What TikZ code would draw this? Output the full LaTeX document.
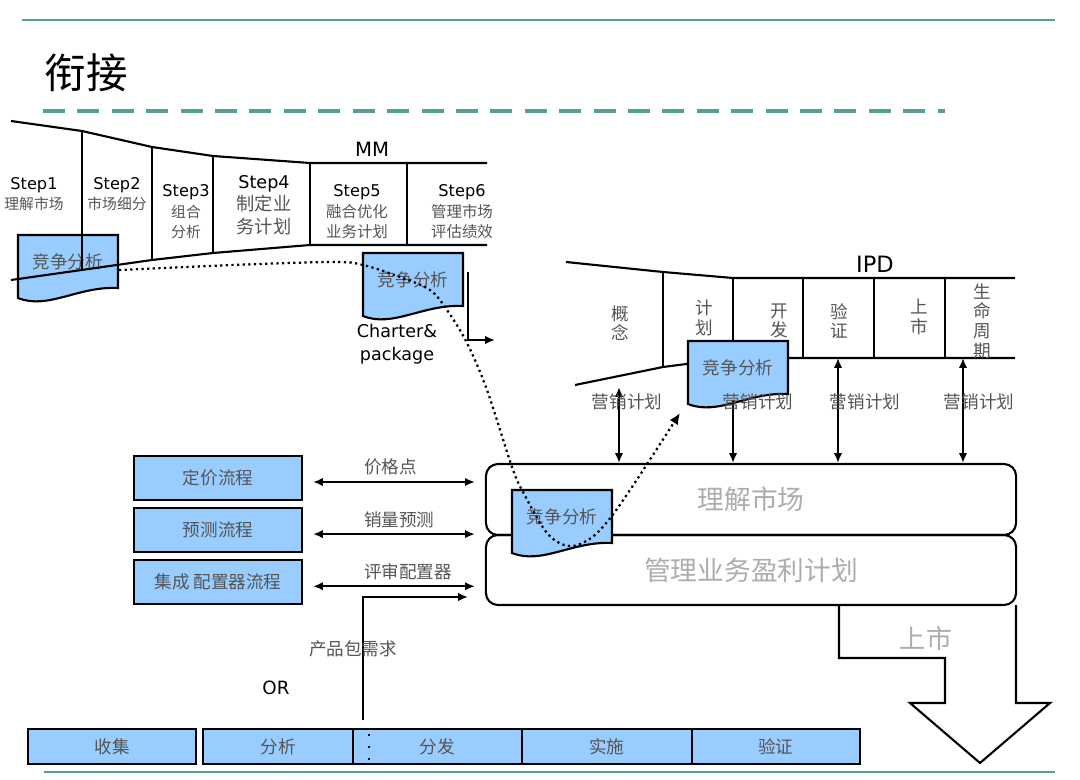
\documentclass[tikz,border=0pt]{standalone}
\usepackage{fontspec}
\setmainfont{DejaVu Sans}
\newfontfamily\cjk{Noto Sans CJK SC}
\usetikzlibrary{arrows.meta,calc,positioning}
\definecolor{RuleClr}{RGB}{84,160,150}
\definecolor{BoxClr}{RGB}{153,204,255}
\definecolor{LblClr}{RGB}{85,85,85}
\definecolor{PaleClr}{RGB}{172,172,172}

\newcommand{\zs}{\cjk\fontsize{10.5}{14.5}\selectfont\color{LblClr}}
\newcommand{\docbox}[3]{% name, centre, text
  \filldraw[docline] ($(#2)+(-50,-27)$) -- ($(#2)+(50,-27)$) -- ($(#2)+(50,26)$)
    .. controls ($(#2)+(10,24)$) and ($(#2)+(-20,48)$) .. ($(#2)+(-50,36)$) -- cycle;
  \node[doctxt] (#1) at (#2) {#3};
}

\tikzset{
  rule/.style={draw=RuleClr, line width=1.6pt},
  edge/.style={line width=1.5pt},
  docline/.style={line width=1.5pt, fill=BoxClr},
  doctxt/.style={font=\cjk\fontsize{12.5}{14}\selectfont, text=LblClr},
  steplbl/.style={align=center, font=\fontsize{11.5}{14.5}\selectfont, inner sep=0pt},
  phase/.style={align=center, font=\cjk\fontsize{12.5}{14}\selectfont, text=LblClr, inner sep=0pt},
  plan/.style={font=\cjk\fontsize{12.5}{14}\selectfont, text=LblClr},
  procbox/.style={draw, line width=1.5pt, fill=BoxClr, minimum width=4.2cm, minimum height=1.1cm,
    font=\cjk\fontsize{12.5}{14}\selectfont, text=LblClr},
  stagebox/.style={draw, line width=1.5pt, fill=BoxClr, minimum height=0.875cm,
    font=\cjk\fontsize{12.5}{14}\selectfont, text=LblClr},
  bigbox/.style={draw, line width=1.5pt, rounded corners=0.3cm, minimum width=13.25cm,
    font=\cjk\fontsize{19}{22}\selectfont, text=PaleClr},
  arr/.style={line width=1.5pt, -{Latex[length=7pt,width=6pt]}},
  biarr/.style={line width=1.5pt, {Latex[length=7pt,width=6pt]}-{Latex[length=7pt,width=6pt]}},
  flow/.style={line width=1.6pt, dash pattern=on 1.6pt off 2.4pt, -{Latex[length=8pt,width=7pt]}},
}

\begin{document}
\begin{tikzpicture}[x=0.025cm,y=-0.025cm]
\useasboundingbox (0,0) rectangle (1080,780);

% title and rules
\draw[rule] (22,20) -- (1055,20);
\node[anchor=west, font=\cjk\fontsize{29.5}{32}\selectfont] (title) at (40,73) {衔接};
\draw[rule, line width=2.4pt, dash pattern=on 0.55cm off 0.31cm] (43,111) -- (945,111);
\draw[rule] (44,772) -- (1055,772);

% MM funnel
\docbox{cmp1}{68,262}{竞争分析}
\draw[edge] (11,121) -- (82,131) -- (152,147) -- (213,156) -- (310,163) -- (487,163);
\draw[edge] (11,280) -- (152,260) -- (213,253) -- (310,245) -- (487,245);
\foreach \x/\ya/\yb in {82/131/270, 152/147/260, 213/156/253, 310/163/245, 407/163/245}
  \draw[edge] (\x,\ya) -- (\x,\yb);
\node[font=\fontsize{14}{16}\selectfont] (mm) at (372,149) {MM};
\node[steplbl] (st1) at (34,194) {Step1\\{\zs 理解市场}};
\node[steplbl] (st2) at (117,194) {Step2\\{\zs 市场细分}};
\node[steplbl] (st3) at (186,212) {Step3\\{\zs 组合}\\{\zs 分析}};
\node[steplbl, font=\fontsize{12.5}{16}\selectfont] (st4) at (264,205)
  {Step4\\{\cjk\fontsize{13}{16}\selectfont\color{LblClr}制定业}\\{\cjk\fontsize{13}{16}\selectfont\color{LblClr}务计划}};
\node[steplbl] (st5) at (357,212) {Step5\\{\cjk\fontsize{11}{14.5}\selectfont\color{LblClr}融合优化}\\{\cjk\fontsize{11}{14.5}\selectfont\color{LblClr}业务计划}};
\node[steplbl] (st6) at (462,212) {Step6\\{\cjk\fontsize{11}{14.5}\selectfont\color{LblClr}管理市场}\\{\cjk\fontsize{11}{14.5}\selectfont\color{LblClr}评估绩效}};
\docbox{cmp2}{413,280}{竞争分析}
\node[align=center, font=\fontsize{12.5}{16}\selectfont] (charter) at (397,344) {Charter\&\\package};
\coordinate (ch1) at (468,272);
\coordinate (ch2) at (495,340);
\draw[arr] (ch1) |- (ch2);

% IPD funnel
\draw[edge] (566,262) -- (663,272) -- (733,278) -- (1015,278);
\draw[edge] (575,385) -- (663,367) -- (733,358) -- (1015,358);
\foreach \x/\ya/\yb in {663/272/367, 733/278/358, 803/278/358, 874/278/358, 945/278/358}
  \draw[edge] (\x,\ya) -- (\x,\yb);
\node[font=\fontsize{16}{18}\selectfont] (ipd) at (875,264) {IPD};
\node[phase] (ph1) at (620,323) {概\\念};
\node[phase] (ph2) at (704,318) {计\\划};
\node[phase] (ph3) at (779,321) {开\\发};
\node[phase] (ph4) at (839,321) {验\\证};
\node[phase] (ph5) at (919,317) {上\\市};
\node[phase] (ph6) at (982,321) {生\\命\\周\\期};

% launch arrow and business boxes
\filldraw[edge, fill=white] (839,605) -- (839,658) -- (945,658) -- (945,703) -- (910,703)
  -- (980,763) -- (1050,703) -- (1016,703) -- (1016,605);
\node[font=\cjk\fontsize{18.5}{20}\selectfont, text=PaleClr] (launch) at (926,638) {上市};
\node[bigbox, minimum height=1.775cm] (mkt) at (751,499.5) {理解市场};
\node[bigbox, minimum height=1.75cm] (mgmt) at (751,570) {管理业务盈利计划};
\docbox{cmp3}{738,368}{竞争分析}
\docbox{cmp4}{562,517}{竞争分析}

% marketing plans
\coordinate (m1) at (619,387);
\coordinate (m2) at (733,400);
\coordinate (m3) at (838,358);
\coordinate (m4) at (963,358);
\draw[biarr] (m1) -- (m1 |- mkt.north);
\draw[arr] (m2) -- (m2 |- mkt.north);
\draw[biarr] (m3) -- (m3 |- mkt.north);
\draw[biarr] (m4) -- (m4 |- mkt.north);
\node[plan] (mp1) at (627,402) {营销计划};
\node[plan] (mp2) at (758,402) {营销计划};
\node[plan] (mp3) at (865,402) {营销计划};
\node[plan] (mp4) at (979,402) {营销计划};

% supporting processes
\node[procbox] (price) at (218,478) {定价流程};
\node[procbox, below=0.15cm of price] (fcst) {预测流程};
\node[procbox, below=0.15cm of fcst] (cfg) {集成 配置器流程};
\draw[biarr] ([shift={(10,4)}]price.east) -- ([shift={(-10,4)}]price.east -| mkt.west)
  node[plan, pos=0.3, anchor=south west, inner sep=1pt, yshift=0.1cm] (lprice) {价格点};
\draw[biarr] ([shift={(10,4)}]fcst.east) -- ([shift={(-10,4)}]fcst.east -| mkt.west)
  node[plan, pos=0.3, anchor=south west, inner sep=1pt, yshift=0.1cm] (lfcst) {销量预测};
\draw[biarr] ([shift={(10,4)}]cfg.east) -- ([shift={(-10,4)}]cfg.east -| mkt.west)
  node[plan, pos=0.3, anchor=south west, inner sep=1pt, yshift=0.1cm] (lcfg) {评审配置器};

% requirement flow
\coordinate (pd) at (363,720);
\coordinate (pdend) at (468,597);
\draw[arr] (pd) |- (pdend);
\node[plan] (lpd) at (353,649) {产品包需求};
\node[font=\fontsize{13}{15}\selectfont] (or) at (276,688) {OR};

\node[stagebox, minimum width=4.2cm] (collect) at (112,746.5) {收集};
\node[stagebox, minimum width=3.75cm] (anl) at (278,746.5) {分析};
\node[stagebox, minimum width=4.22cm, right=-1.5pt of anl] (dist) {分发};
\node[stagebox, minimum width=4.25cm, right=-1.5pt of dist] (impl) {实施};
\node[stagebox, minimum width=4.2cm, right=-1.5pt of impl] (verify) {验证};
\draw[line width=1.4pt, dash pattern=on 1.4pt off 7pt] ([shift={(17,6)}]dist.north west) -- ([shift={(17,-4)}]dist.south west);

% competitive analysis thread
\draw[flow] plot[smooth, tension=0.55] coordinates {(119,270) (233,265) (333,262) (363,265) (400,277)
  (430,290) (447,310) (467,343) (487,390) (512,467) (523,492) (547,533) (569,546) (591,538)
  (611,517) (638,478) (680,413)};
\end{tikzpicture}
\end{document}
